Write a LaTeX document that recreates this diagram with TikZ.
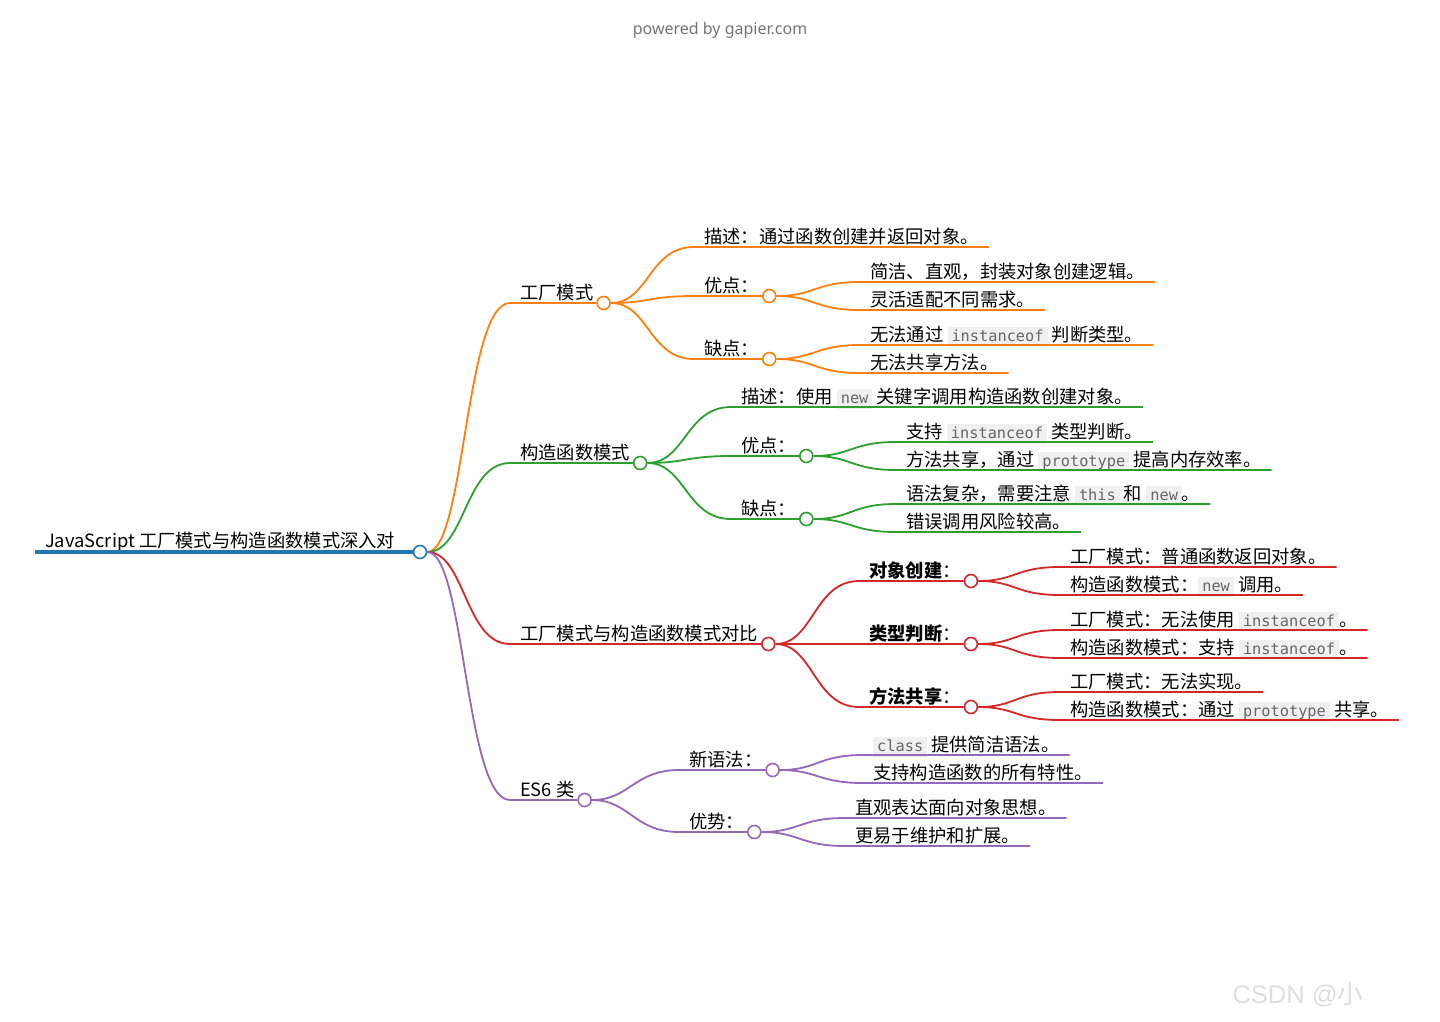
\documentclass[tikz,border=0pt]{standalone}
\usepackage{fontspec}
\newfontfamily\cjk{Noto Sans CJK SC}
\newfontfamily\codefont{DejaVu Sans Mono}
\newfontfamily\latinfont{Noto Sans}
\newfontfamily\markfont{Liberation Sans}
\definecolor{rootc}{HTML}{1F77B4}
\definecolor{facc}{HTML}{FF7F0E}
\definecolor{conc}{HTML}{2CA02C}
\definecolor{cmpc}{HTML}{D62728}
\definecolor{esc}{HTML}{9467BD}
\definecolor{codebg}{HTML}{F0F0F0}
\definecolor{codefg}{HTML}{666666}
\newcommand\topicfont{\fontsize{18.3}{22}\selectfont\cjk}
\newcommand\code[1]{{\setlength{\fboxsep}{2.5pt}\colorbox{codebg}{\kern1.5pt\fontsize{15.3}{18}\selectfont\codefont\color{codefg}\vphantom{lp}#1\kern1.5pt}}}
\begin{document}
\begin{tikzpicture}[x=1pt,y=-1pt,
		dot/.style={circle,draw=#1,fill=white,line width=1.6pt,minimum size=13pt,inner sep=0pt},
		link/.style={draw=#1,line width=1.8pt},
		topic/.style={anchor=base west,inner xsep=10pt,inner ysep=0pt,font=\topicfont}]
		\useasboundingbox (0,0) rectangle (1440,1021);
		% 页眉与水印
		\node[font=\latinfont\fontsize{16}{19}\selectfont,text=black!55] (pw) at (720,30) {powered by gapier.com};
		\node[anchor=west,font=\markfont\fontsize{25.5}{30}\selectfont,text=black!13] (wm) at (1229,995) {CSDN @{\cjk 小}};
		
		% 中心主题
		\coordinate (r0) at (35,552);
		\node[dot=rootc] (root) at (420,552) {};
		\node[topic] (rootT) at ([yshift=5pt]r0) {JavaScript 工厂模式与构造函数模式深入对};
		\draw[link=rootc,line width=4.5pt] (r0) -- (root);
		
		% 工厂模式
		\coordinate (fac) at (510,303);
		\node[topic] (facT) at ([yshift=3.5pt]fac) {工厂模式};
		\node[dot=facc] (facD) at (facT.east |- fac) {};
		\coordinate (facA) at (694,247);
		\node[topic] (facAT) at ([yshift=3.5pt]facA) {描述：通过函数创建并返回对象。};
		\coordinate (facB) at (694,296);
		\node[topic] (facBT) at ([yshift=3.5pt]facB) {优点：};
		\node[dot=facc] (facBD) at (facBT.east |- facB) {};
		\coordinate (facB1) at (860,282);
		\node[topic] (facB1T) at ([yshift=3.5pt]facB1) {简洁、直观，封装对象创建逻辑。};
		\coordinate (facB2) at (860,310);
		\node[topic] (facB2T) at ([yshift=3.5pt]facB2) {灵活适配不同需求。};
		\coordinate (facC) at (694,359);
		\node[topic] (facCT) at ([yshift=3.5pt]facC) {缺点：};
		\node[dot=facc] (facCD) at (facCT.east |- facC) {};
		\coordinate (facC1) at (860,345);
		\node[topic] (facC1T) at ([yshift=3.5pt]facC1) {无法通过 \code{instanceof} 判断类型。};
		\coordinate (facC2) at (860,373);
		\node[topic] (facC2T) at ([yshift=3.5pt]facC2) {无法共享方法。};
		\draw[link=facc] (root) .. controls +(45,0) and +(-45,0) .. (fac) -- (facD);
		\draw[link=facc] (facD) .. controls +(45,0) and +(-45,0) .. (facA) -- (facAT.east |- facA);
		\draw[link=facc] (facD) .. controls +(45,0) and +(-45,0) .. (facB) -- (facBD);
		\draw[link=facc] (facD) .. controls +(45,0) and +(-45,0) .. (facC) -- (facCD);
		\draw[link=facc] (facBD) .. controls +(45,0) and +(-45,0) .. (facB1) -- (facB1T.east |- facB1);
		\draw[link=facc] (facBD) .. controls +(45,0) and +(-45,0) .. (facB2) -- (facB2T.east |- facB2);
		\draw[link=facc] (facCD) .. controls +(45,0) and +(-45,0) .. (facC1) -- (facC1T.east |- facC1);
		\draw[link=facc] (facCD) .. controls +(45,0) and +(-45,0) .. (facC2) -- (facC2T.east |- facC2);
		
		% 构造函数模式
		\coordinate (con) at (510,463);
		\node[topic] (conT) at ([yshift=3.5pt]con) {构造函数模式};
		\node[dot=conc] (conD) at (conT.east |- con) {};
		\coordinate (conA) at (731,407);
		\node[topic] (conAT) at ([yshift=3.5pt]conA) {描述：使用 \code{new} 关键字调用构造函数创建对象。};
		\coordinate (conB) at (731,456);
		\node[topic] (conBT) at ([yshift=3.5pt]conB) {优点：};
		\node[dot=conc] (conBD) at (conBT.east |- conB) {};
		\coordinate (conB1) at (896,442);
		\node[topic] (conB1T) at ([yshift=3.5pt]conB1) {支持 \code{instanceof} 类型判断。};
		\coordinate (conB2) at (896,470);
		\node[topic] (conB2T) at ([yshift=3.5pt]conB2) {方法共享，通过 \code{prototype} 提高内存效率。};
		\coordinate (conC) at (731,519);
		\node[topic] (conCT) at ([yshift=3.5pt]conC) {缺点：};
		\node[dot=conc] (conCD) at (conCT.east |- conC) {};
		\coordinate (conC1) at (896,504);
		\node[topic] (conC1T) at ([yshift=3.5pt]conC1) {语法复杂，需要注意 \code{this} 和 \code{new}。};
		\coordinate (conC2) at (896,532);
		\node[topic] (conC2T) at ([yshift=3.5pt]conC2) {错误调用风险较高。};
		\draw[link=conc] (root) .. controls +(45,0) and +(-45,0) .. (con) -- (conD);
		\draw[link=conc] (conD) .. controls +(45,0) and +(-45,0) .. (conA) -- (conAT.east |- conA);
		\draw[link=conc] (conD) .. controls +(45,0) and +(-45,0) .. (conB) -- (conBD);
		\draw[link=conc] (conD) .. controls +(45,0) and +(-45,0) .. (conC) -- (conCD);
		\draw[link=conc] (conBD) .. controls +(45,0) and +(-45,0) .. (conB1) -- (conB1T.east |- conB1);
		\draw[link=conc] (conBD) .. controls +(45,0) and +(-45,0) .. (conB2) -- (conB2T.east |- conB2);
		\draw[link=conc] (conCD) .. controls +(45,0) and +(-45,0) .. (conC1) -- (conC1T.east |- conC1);
		\draw[link=conc] (conCD) .. controls +(45,0) and +(-45,0) .. (conC2) -- (conC2T.east |- conC2);
		
		% 对比
		\coordinate (cmp) at (510,644);
		\node[topic] (cmpT) at ([yshift=3.5pt]cmp) {工厂模式与构造函数模式对比};
		\node[dot=cmpc] (cmpD) at (cmpT.east |- cmp) {};
		\coordinate (cmpA) at (859,581);
		\node[topic] (cmpAT) at ([yshift=3.5pt]cmpA) {\textbf{对象创建}：};
		\node[dot=cmpc] (cmpAD) at (cmpAT.east |- cmpA) {};
		\coordinate (cmpA1) at (1060,567);
		\node[topic] (cmpA1T) at ([yshift=3.5pt]cmpA1) {工厂模式：普通函数返回对象。};
		\coordinate (cmpA2) at (1060,595);
		\node[topic] (cmpA2T) at ([yshift=3.5pt]cmpA2) {构造函数模式：\code{new} 调用。};
		\coordinate (cmpB) at (859,644);
		\node[topic] (cmpBT) at ([yshift=3.5pt]cmpB) {\textbf{类型判断}：};
		\node[dot=cmpc] (cmpBD) at (cmpBT.east |- cmpB) {};
		\coordinate (cmpB1) at (1060,630);
		\node[topic] (cmpB1T) at ([yshift=3.5pt]cmpB1) {工厂模式：无法使用 \code{instanceof}。};
		\coordinate (cmpB2) at (1060,658);
		\node[topic] (cmpB2T) at ([yshift=3.5pt]cmpB2) {构造函数模式：支持 \code{instanceof}。};
		\coordinate (cmpC) at (859,707);
		\node[topic] (cmpCT) at ([yshift=3.5pt]cmpC) {\textbf{方法共享}：};
		\node[dot=cmpc] (cmpCD) at (cmpCT.east |- cmpC) {};
		\coordinate (cmpC1) at (1060,692);
		\node[topic] (cmpC1T) at ([yshift=3.5pt]cmpC1) {工厂模式：无法实现。};
		\coordinate (cmpC2) at (1060,720);
		\node[topic] (cmpC2T) at ([yshift=3.5pt]cmpC2) {构造函数模式：通过 \code{prototype} 共享。};
		\draw[link=cmpc] (root) .. controls +(45,0) and +(-45,0) .. (cmp) -- (cmpD);
		\draw[link=cmpc] (cmpD) .. controls +(45,0) and +(-45,0) .. (cmpA) -- (cmpAD);
		\draw[link=cmpc] (cmpD) .. controls +(45,0) and +(-45,0) .. (cmpB) -- (cmpBD);
		\draw[link=cmpc] (cmpD) .. controls +(45,0) and +(-45,0) .. (cmpC) -- (cmpCD);
		\draw[link=cmpc] (cmpAD) .. controls +(45,0) and +(-45,0) .. (cmpA1) -- (cmpA1T.east |- cmpA1);
		\draw[link=cmpc] (cmpAD) .. controls +(45,0) and +(-45,0) .. (cmpA2) -- (cmpA2T.east |- cmpA2);
		\draw[link=cmpc] (cmpBD) .. controls +(45,0) and +(-45,0) .. (cmpB1) -- (cmpB1T.east |- cmpB1);
		\draw[link=cmpc] (cmpBD) .. controls +(45,0) and +(-45,0) .. (cmpB2) -- (cmpB2T.east |- cmpB2);
		\draw[link=cmpc] (cmpCD) .. controls +(45,0) and +(-45,0) .. (cmpC1) -- (cmpC1T.east |- cmpC1);
		\draw[link=cmpc] (cmpCD) .. controls +(45,0) and +(-45,0) .. (cmpC2) -- (cmpC2T.east |- cmpC2);
		
		% ES6 类
		\coordinate (es) at (510,800);
		\node[topic] (esT) at ([yshift=3.5pt]es) {ES6 类};
		\node[dot=esc] (esD) at (esT.east |- es) {};
		\coordinate (esA) at (679,770);
		\node[topic] (esAT) at ([yshift=3.5pt]esA) {新语法：};
		\node[dot=esc] (esAD) at (esAT.east |- esA) {};
		\coordinate (esA1) at (863,755);
		\node[topic] (esA1T) at ([yshift=3.5pt]esA1) {\code{class} 提供简洁语法。};
		\coordinate (esA2) at (863,783);
		\node[topic] (esA2T) at ([yshift=3.5pt]esA2) {支持构造函数的所有特性。};
		\coordinate (esB) at (679,832);
		\node[topic] (esBT) at ([yshift=3.5pt]esB) {优势：};
		\node[dot=esc] (esBD) at (esBT.east |- esB) {};
		\coordinate (esB1) at (845,818);
		\node[topic] (esB1T) at ([yshift=3.5pt]esB1) {直观表达面向对象思想。};
		\coordinate (esB2) at (845,846);
		\node[topic] (esB2T) at ([yshift=3.5pt]esB2) {更易于维护和扩展。};
		\draw[link=esc] (root) .. controls +(45,0) and +(-45,0) .. (es) -- (esD);
		\draw[link=esc] (esD) .. controls +(45,0) and +(-45,0) .. (esA) -- (esAD);
		\draw[link=esc] (esD) .. controls +(45,0) and +(-45,0) .. (esB) -- (esBD);
		\draw[link=esc] (esAD) .. controls +(45,0) and +(-45,0) .. (esA1) -- (esA1T.east |- esA1);
		\draw[link=esc] (esAD) .. controls +(45,0) and +(-45,0) .. (esA2) -- (esA2T.east |- esA2);
		\draw[link=esc] (esBD) .. controls +(45,0) and +(-45,0) .. (esB1) -- (esB1T.east |- esB1);
		\draw[link=esc] (esBD) .. controls +(45,0) and +(-45,0) .. (esB2) -- (esB2T.east |- esB2);
\end{tikzpicture}
\end{document}
